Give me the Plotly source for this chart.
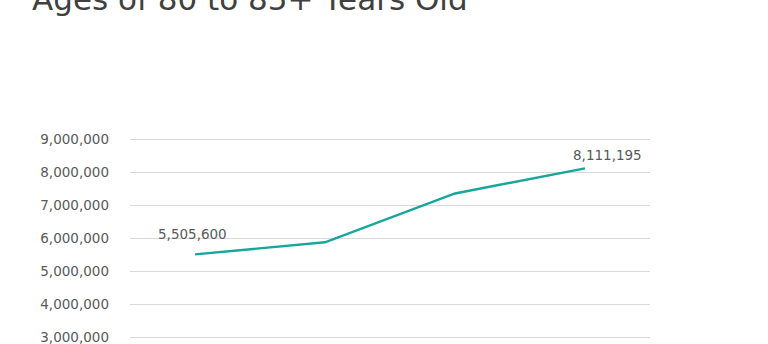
import plotly.graph_objects as go

categories = ["Year 1", "Year 2", "Year 3", "Year 4"]
population = [5505600, 5870000, 7350000, 8111195]
labelled = {0: "5,505,600", 3: "8,111,195"}
y_ticks = [3000000, 4000000, 5000000, 6000000, 7000000, 8000000, 9000000]
title_text = "Ages of 80 to 85+ Years Old"

W, H = 768, 344
top, left, right = 134, 130, 118
px_per_unit = 33 / 1_000_000
y_max = 9_000_000 + 5 / px_per_unit
y_min = y_max - (H - top) / px_per_unit

fig = go.Figure()
fig.add_trace(go.Scatter(
    x=categories, y=population, mode="lines",
    line=dict(color="#17A69B", width=2.4),
    hoverinfo="skip", showlegend=False,
))

shifts = {0: (-3, 20), 3: (22, 13)}
for i, txt in labelled.items():
    fig.add_annotation(
        x=i, y=population[i], xref="x", yref="y",
        text=txt, showarrow=False, xshift=shifts[i][0], yshift=shifts[i][1],
        font=dict(family="DejaVu Sans", size=13.5, color="#595959"),
    )

fig.add_annotation(
    x=(30 - left) / (W - left - right), y=1 + (top - 19) / (H - top),
    xref="paper", yref="paper", xanchor="left", yanchor="bottom",
    text=title_text, showarrow=False,
    font=dict(family="DejaVu Sans", size=31, color="#404040"),
)

fig.update_layout(
    width=W, height=H,
    margin=dict(l=left, r=right, t=top, b=0, pad=0, autoexpand=False),
    paper_bgcolor="white", plot_bgcolor="white",
    font=dict(family="DejaVu Sans", color="#595959"),
    xaxis=dict(
        type="category", range=[-0.5, 3.5], showgrid=False, zeroline=False,
        showline=False, ticks="", automargin=False, showticklabels=False,
    ),
    yaxis=dict(
        range=[y_min, y_max], tickvals=y_ticks,
        ticktext=[f"{v:,}" for v in y_ticks],
        showgrid=True, gridcolor="#D9D9D9", gridwidth=1,
        zeroline=False, showline=False, ticks="", automargin=False,
        ticklabelstandoff=20, ticklabeloverflow="allow",
        tickfont=dict(size=13.5, color="#595959"),
    ),
)

fig.write_html("out.html")
